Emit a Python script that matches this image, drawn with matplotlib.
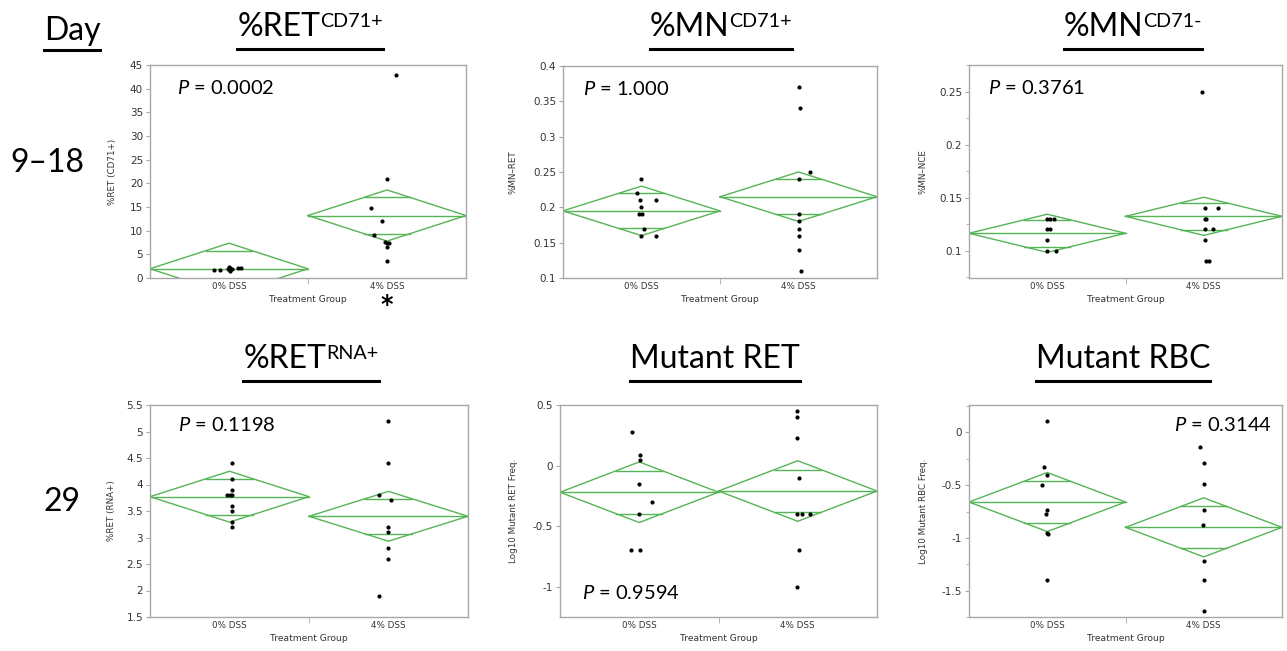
import numpy as np
import matplotlib
matplotlib.use('Agg')
import matplotlib.pyplot as plt
from matplotlib.lines import Line2D
from matplotlib.ticker import MultipleLocator, FuncFormatter
import matplotlib.transforms as mtransforms

W, H = 1287, 651

groups = ['0% DSS', '4% DSS']

# Day 9-18 : %RET CD71+
retcd71_0 = [1.6, 1.6, 2.0, 2.4, 1.5, 2.1, 1.8, 2.2, 2.2]
retcd71_0_dx = [-0.094, -0.058, -0.005, 0.001, 0.005, 0.009, 0.016, 0.058, 0.073]
retcd71_4 = [42.9, 20.85, 14.85, 12.1, 9.1, 7.7, 7.5, 7.3, 6.5, 3.65]
retcd71_4_dx = [0.055, 0.0, -0.10, -0.03, -0.08, -0.01, 0.0, 0.01, 0.0, 0.0]
retcd71_mean = [1.95, 13.2]
retcd71_ci = [5.4, 5.4]

# Day 9-18 : %MN CD71+
mncd71p_0 = [0.24, 0.22, 0.21, 0.21, 0.20, 0.19, 0.19, 0.17, 0.16, 0.16]
mncd71p_0_dx = [-0.004, -0.026, -0.009, 0.090, -0.004, -0.019, 0.0, 0.017, -0.004, 0.090]
mncd71p_4 = [0.37, 0.34, 0.25, 0.24, 0.19, 0.18, 0.17, 0.16, 0.14, 0.11]
mncd71p_4_dx = [0.002, 0.008, 0.076, 0.002, 0.002, 0.002, 0.002, 0.002, 0.002, 0.017]
mncd71p_mean = [0.195, 0.215]
mncd71p_ci = [0.035, 0.035]

# Day 9-18 : %MN CD71-
mncd71n_0 = [0.13, 0.13, 0.13, 0.12, 0.12, 0.11, 0.10, 0.10]
mncd71n_0_dx = [0.0, 0.015, 0.046, 0.0, 0.015, 0.0, 0.0, 0.057]
mncd71n_4 = [0.25, 0.14, 0.14, 0.13, 0.13, 0.12, 0.12, 0.11, 0.09, 0.09]
mncd71n_4_dx = [-0.009, 0.009, 0.089, 0.009, 0.017, 0.009, 0.061, 0.009, 0.017, 0.035]
mncd71n_mean = [0.1164, 0.1324]
mncd71n_ci = [0.018, 0.018]

# Day 29 : %RET RNA+
retrna_0 = [4.4, 4.1, 3.9, 3.8, 3.8, 3.8, 3.6, 3.5, 3.3, 3.2]
retrna_0_dx = [0.013, 0.013, 0.013, -0.015, 0.002, 0.015, 0.013, 0.013, 0.013, 0.013]
retrna_4 = [5.2, 4.4, 3.8, 3.7, 3.2, 3.1, 2.8, 2.6, 1.9]
retrna_4_dx = [-0.002, -0.002, -0.059, 0.015, -0.002, -0.002, -0.002, -0.002, -0.059]
retrna_mean = [3.77, 3.40]
retrna_ci = [0.48, 0.47]

# Day 29 : Mutant RET
mutret_0 = [0.28, 0.084, 0.046, -0.15, -0.30, -0.40, -0.70, -0.70]
mutret_0_dx = [-0.043, 0.003, 0.003, 0.0, 0.079, 0.0, -0.05, 0.003]
mutret_4 = [0.45, 0.40, 0.23, -0.10, -0.40, -0.40, -0.40, -0.70, -1.0]
mutret_4_dx = [-0.004, -0.004, -0.004, 0.006, -0.004, 0.027, 0.08, 0.006, -0.004]
mutret_mean = [-0.22, -0.21]
mutret_ci = [0.25, 0.25]

# Day 29 : Mutant RBC
mutrbc_0 = [0.107, -0.33, -0.40, -0.50, -0.74, -0.77, -0.955, -0.96, -1.40]
mutrbc_0_dx = [0.0, -0.021, 0.0, -0.032, 0.0, -0.011, 0.0, 0.004, 0.0]
mutrbc_4 = [-0.14, -0.29, -0.49, -0.74, -0.88, -1.22, -1.40, -1.69]
mutrbc_4_dx = [-0.024, 0.004, 0.004, 0.004, -0.002, 0.004, 0.004, 0.004]
mutrbc_mean = [-0.66, -0.90]
mutrbc_ci = [0.28, 0.28]

plt.rcParams['mathtext.fontset'] = 'custom'
plt.rcParams['mathtext.rm'] = 'Lato'
plt.rcParams['mathtext.it'] = 'Lato:italic'

GREEN = '#55b455'
FRAME = '#a8a8a8'
TXT = '#333333'

fig = plt.figure(figsize=(W / 100, H / 100), dpi=100)


def px_axes(l, t, r, b):
    return fig.add_axes([l / W, 1 - b / H, (r - l) / W, (b - t) / H])


def diamond(ax, g, m, hw):
    xs = [g, g + 0.5, g + 1, g + 0.5, g]
    ys = [m, m + hw, m, m - hw, m]
    ax.plot(xs, ys, color=GREEN, lw=1.0, zorder=2)
    ax.plot([g, g + 1], [m, m], color=GREEN, lw=1.0, zorder=2)
    d = hw / np.sqrt(2)
    half = 0.5 * (1 - 1 / np.sqrt(2))
    for s in (1, -1):
        ax.plot([g + 0.5 - half, g + 0.5 + half], [m + s * d, m + s * d],
                color=GREEN, lw=1.0, zorder=2)


def fmt(v, p):
    if abs(v) < 1e-9:
        return '0'
    return ('%.4f' % v).rstrip('0').rstrip('.')


def panel(ax, vals0, dx0, vals4, dx4, means, cis, ylim, major, minor, ylabel, lab_off):
    for g, (m, hw) in enumerate(zip(means, cis)):
        diamond(ax, g, m, hw)
    ax.scatter(0.5 + np.array(dx0), vals0, s=9, color='black', zorder=3, linewidths=0)
    ax.scatter(1.5 + np.array(dx4), vals4, s=9, color='black', zorder=3, linewidths=0)
    ax.set_xlim(0, 2)
    ax.set_ylim(*ylim)
    ax.yaxis.set_major_locator(MultipleLocator(major))
    if minor:
        ax.yaxis.set_minor_locator(MultipleLocator(minor))
    ax.yaxis.set_major_formatter(FuncFormatter(fmt))
    ax.set_xticks([0.5, 1.5])
    ax.set_xticklabels(groups, fontsize=6.3, color=TXT)
    ax.set_xticks([1.0], minor=True)
    ax.tick_params(axis='x', which='major', length=0, pad=3)
    ax.tick_params(axis='x', which='minor', length=4, color=FRAME)
    ax.tick_params(axis='y', which='major', length=3, color=FRAME, labelsize=7.5, labelcolor=TXT, pad=2)
    ax.tick_params(axis='y', which='minor', length=2, color=FRAME)
    for sp in ax.spines.values():
        sp.set_color(FRAME)
        sp.set_linewidth(1.0)
    ax.set_ylabel(ylabel, fontsize=6.3, color=TXT)
    bb = ax.get_position()
    ax.yaxis.set_label_coords(-lab_off / (bb.width * W), 0.5)
    ax.text(0.5, -0.10, 'Treatment Group', transform=ax.transAxes, ha='center', va='center',
            fontsize=6.6, color=TXT)


ax1 = px_axes(150, 65, 466, 278)
panel(ax1, retcd71_0, retcd71_0_dx, retcd71_4, retcd71_4_dx, retcd71_mean, retcd71_ci,
      (0, 45), 5, None, '%RET (CD71+)', 33)
ax2 = px_axes(563, 66, 877, 278)
panel(ax2, mncd71p_0, mncd71p_0_dx, mncd71p_4, mncd71p_4_dx, mncd71p_mean, mncd71p_ci,
      (0.1, 0.4), 0.05, None, '%MN\u2013RET', 46)
ax3 = px_axes(969, 65, 1282, 278)
panel(ax3, mncd71n_0, mncd71n_0_dx, mncd71n_4, mncd71n_4_dx, mncd71n_mean, mncd71n_ci,
      (0.0742, 0.2752), 0.05, 0.025, '%MN\u2013NCE', 41)
ax4 = px_axes(150, 405, 468, 617)
panel(ax4, retrna_0, retrna_0_dx, retrna_4, retrna_4_dx, retrna_mean, retrna_ci,
      (1.5, 5.5), 0.5, None, '%RET (RNA+)', 34)
ax5 = px_axes(560, 405, 877, 617)
panel(ax5, mutret_0, mutret_0_dx, mutret_4, mutret_4_dx, mutret_mean, mutret_ci,
      (-1.25, 0.5), 0.5, None, 'Log10 Mutant RET Freq.', 42)
ax6 = px_axes(969, 405, 1282, 617)
panel(ax6, mutrbc_0, mutrbc_0_dx, mutrbc_4, mutrbc_4_dx, mutrbc_mean, mutrbc_ci,
      (-1.75, 0.26), 0.5, 0.25, 'Log10 Mutant RBC Freq.', 41)

# P values
pfs = 14.5
ax1.text(0.085, 0.89, r'$P$ = 0.0002', transform=ax1.transAxes, fontsize=pfs, family='Lato', va='center')
ax2.text(0.064, 0.89, r'$P$ = 1.000', transform=ax2.transAxes, fontsize=pfs, family='Lato', va='center')
ax3.text(0.061, 0.89, r'$P$ = 0.3761', transform=ax3.transAxes, fontsize=pfs, family='Lato', va='center')
ax4.text(0.088, 0.906, r'$P$ = 0.1198', transform=ax4.transAxes, fontsize=pfs, family='Lato', va='center')
ax5.text(0.069, 0.113, r'$P$ = 0.9594', transform=ax5.transAxes, fontsize=pfs, family='Lato', va='center')
ax6.text(0.655, 0.906, r'$P$ = 0.3144', transform=ax6.transAxes, fontsize=pfs, family='Lato', va='center')

# significance star
trans = mtransforms.blended_transform_factory(ax1.transData, ax1.transAxes)
ax1.text(1.5, -0.125, '*', transform=trans, ha='center', va='center', fontsize=17,
         fontweight='bold', color='black')

# titles with superscripts and underline
TFS = 23
renderer = fig.canvas.get_renderer()


def sup_title(cx, base, main, sup, ul):
    fy = 1 - base / H
    t1 = fig.text(0, fy, main, fontsize=TFS, family='Lato', va='baseline', ha='left')
    w1 = t1.get_window_extent(renderer).width
    w2 = 0
    t2 = None
    if sup:
        t2 = fig.text(0, fy, sup, fontsize=TFS * 0.62, family='Lato', va='baseline', ha='left')
        w2 = t2.get_window_extent(renderer).width
    x0 = cx - (w1 + w2) / 2
    t1.set_x(x0 / W)
    if t2 is not None:
        rise = 0.7165 * TFS * 100 / 72 * (1 - 0.62)
        t2.set_x((x0 + w1) / W)
        t2.set_y(1 - (base - rise) / H)
    fig.add_artist(Line2D([x0 / W, (x0 + w1 + w2) / W], [1 - ul / H] * 2, color='black', lw=2.2))


sup_title(72, 40, 'Day', None, 50)
sup_title(310, 36, '%RET', 'CD71+', 49)
sup_title(721, 36, '%MN', 'CD71+', 49)
sup_title(1133, 36, '%MN', 'CD71-', 49)
sup_title(311, 368, '%RET', 'RNA+', 381)
sup_title(715, 368, 'Mutant RET', None, 381)
sup_title(1123, 368, 'Mutant RBC', None, 381)

fig.text(47 / W, 1 - 163 / H, '9\u201318', fontsize=TFS, family='Lato', ha='center', va='center')
fig.text(62 / W, 1 - 502 / H, '29', fontsize=TFS, family='Lato', ha='center', va='center')

fig.savefig('out.png', dpi=100)
